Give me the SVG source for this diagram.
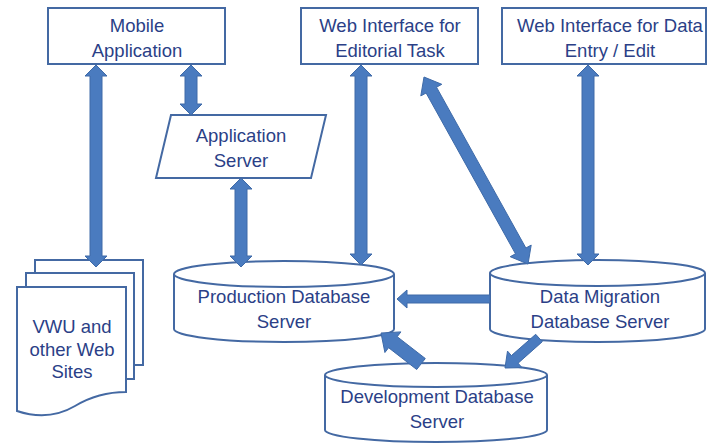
<svg xmlns="http://www.w3.org/2000/svg" width="707" height="443" viewBox="0 0 707 443">
<style>
.s{fill:#fff;stroke:#4469A3;stroke-width:2}
.t{font-family:"Liberation Sans",Arial,sans-serif;font-size:18.5px;fill:#2B3F87;text-anchor:middle}
.a{fill:#4A7BBF;stroke:#3E6AA8;stroke-width:1}
</style>
<rect width="707" height="443" fill="#fff"/>
<g id="mobile">
<rect class="s" x="48" y="8" width="177" height="56"/>
<text class="t" x="137" y="32">Mobile</text>
<text class="t" x="137" y="57">Application</text>
</g>
<g id="editorial">
<rect class="s" x="301" y="8" width="177" height="56"/>
<text class="t" x="390" y="32">Web Interface for</text>
<text class="t" x="390" y="57">Editorial Task</text>
</g>
<g id="dataentry">
<rect class="s" x="502" y="8" width="204" height="56"/>
<text class="t" x="610" y="32">Web Interface for Data</text>
<text class="t" x="610" y="57">Entry / Edit</text>
</g>
<g id="appserver">
<polygon class="s" points="171,115 326,115 311,178 156,178"/>
<text class="t" x="241" y="142">Application</text>
<text class="t" x="241" y="167">Server</text>
</g>
<g id="vwu">
<path class="s" d="M35,260 H143 V365 H35 Z"/>
<path class="s" d="M26,273 H134 V379 H26 Z"/>
<path class="s" d="M17,287 H126 V392 C105,392 90,397 75,406 C58,416 38,418 17,411 Z"/>
<text class="t" x="72" y="333">VWU and</text>
<text class="t" x="72" y="356">other Web</text>
<text class="t" x="72" y="378">Sites</text>
</g>
<g id="production">
<path class="s" d="M174,274 A110,13 0 0 1 394,274 V329 A110,13 0 0 1 174,329 Z"/>
<path class="s" fill="none" d="M174,274 A110,13 0 0 0 394,274"/>
<text class="t" x="284" y="303">Production Database</text>
<text class="t" x="284" y="328">Server</text>
</g>
<g id="migration">
<path class="s" d="M490,273 A107.5,13 0 0 1 705,273 V329 A107.5,13 0 0 1 490,329 Z"/>
<path class="s" fill="none" d="M490,273 A107.5,13 0 0 0 705,273"/>
<text class="t" x="600" y="303">Data Migration</text>
<text class="t" x="600" y="328">Database Server</text>
</g>
<g id="development">
<path class="s" d="M325,375 A111,12 0 0 1 547,375 V430 A111,12 0 0 1 325,430 Z"/>
<path class="s" fill="none" d="M325,375 A111,12 0 0 0 547,375"/>
<text class="t" x="437" y="403">Development Database</text>
<text class="t" x="437" y="428">Server</text>
</g>
<g id="connectors">
<polygon class="a" points="96,65 107,76 102,76 102,256 107,256 96,267 85,256 90,256 90,76 85,76"/>
<polygon class="a" points="191,65 202,76 197,76 197,104 202,104 191,115 180,104 185,104 185,76 180,76"/>
<polygon class="a" points="241,178 252,189 247,189 247,256 252,256 241,267 230,256 235,256 235,189 230,189"/>
<polygon class="a" points="361,65 372,76 367,76 367,254 372,254 361,265 350,254 355,254 355,76 350,76"/>
<polygon class="a" points="588,65 599,76 594,76 594,254 599,254 588,265 577,254 582,254 582,76 577,76"/>
<polygon class="a" points="424,77 441.8,84.3 436.5,87.2 525.9,248 531.2,245.1 528,264 510.2,256.7 515.5,253.8 426.1,93 420.8,95.9"/>
<polygon class="a" points="397,299 407,290 407,295 490,295 490,303 407,303 407,308"/>
<polygon class="a" points="381,333 400.9,331.9 397.2,336.7 425.3,358.5 416.7,369.5 388.6,347.7 384.9,352.5"/>
<polygon class="a" points="505,368 507.5,351.1 511.4,355.6 535.7,334.3 542.3,341.7 518.1,363.2 522,367.7"/>
</g>
</svg>
